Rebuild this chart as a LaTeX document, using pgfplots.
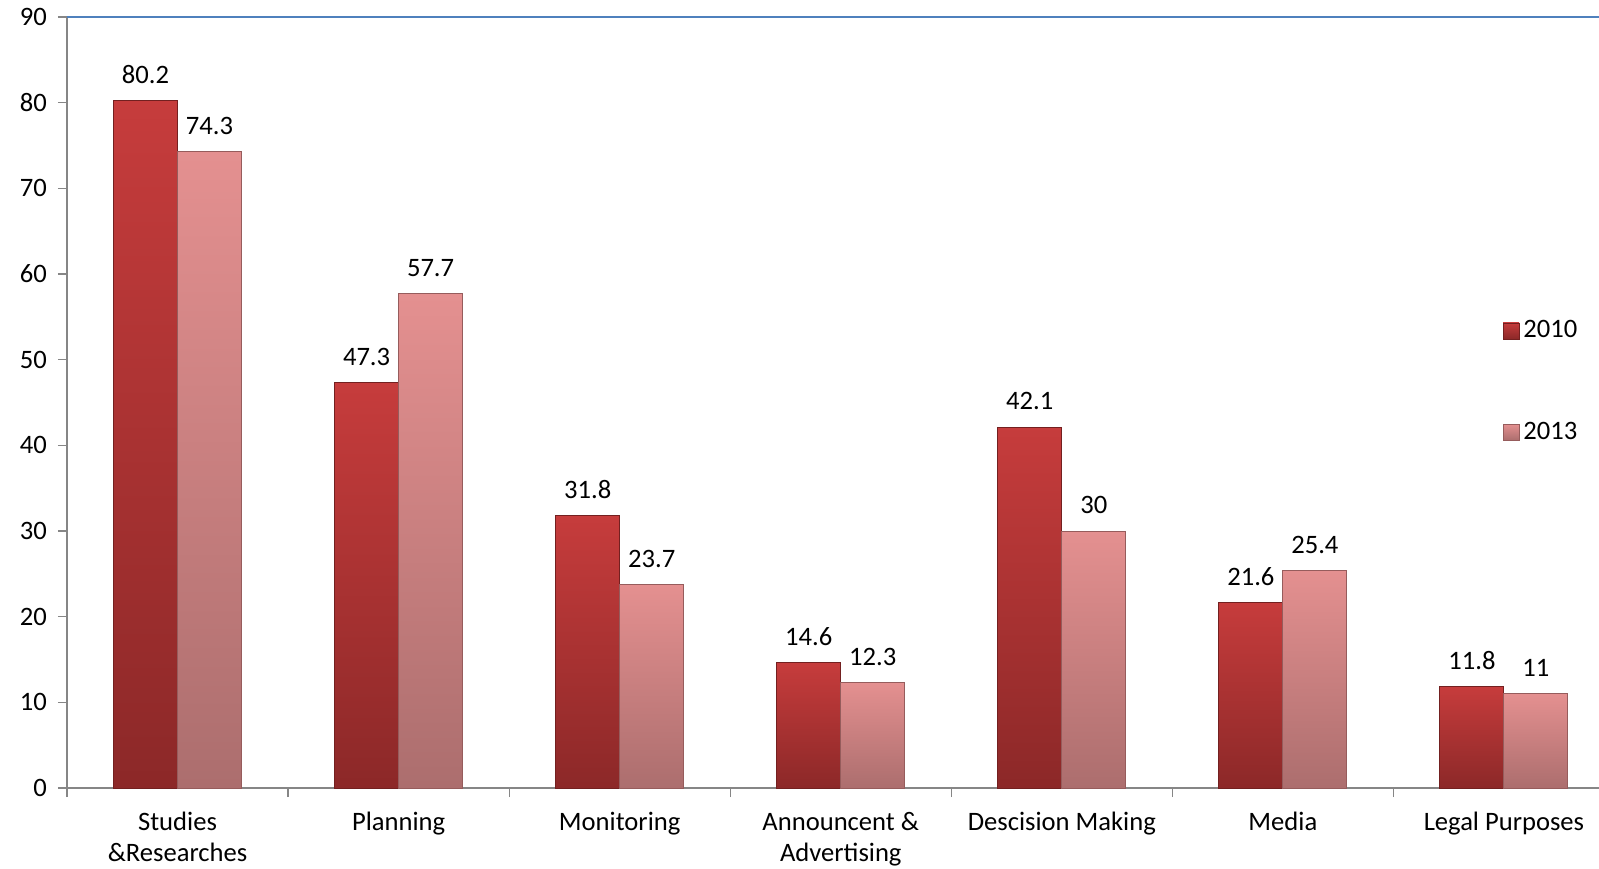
\documentclass[border=0pt]{standalone}
\usepackage{fontspec}
\setmainfont{Carlito}
\usepackage{pgfplots}
\pgfplotsset{compat=1.18}

\definecolor{rTop}{RGB}{198,60,60}
\definecolor{rBot}{RGB}{140,40,40}
\definecolor{rLine}{RGB}{115,32,32}
\definecolor{pTop}{RGB}{228,144,144}
\definecolor{pBot}{RGB}{172,110,110}
\definecolor{pLine}{RGB}{150,92,92}
\definecolor{axgray}{RGB}{134,134,134}
\definecolor{topblue}{RGB}{79,129,189}

\pgfplotsset{
    bar10/.style={draw=rLine, line width=0.5pt, top color=rTop, bottom color=rBot, bar shift=-16pt},
    bar13/.style={draw=pLine, line width=0.5pt, top color=pTop, bottom color=pBot, bar shift=16pt},
}

\begin{document}
\begin{tikzpicture}
\useasboundingbox (-33.5pt,-40pt) rectangle (766pt,394pt);
\begin{axis}[
    scale only axis,
    width=766pt, height=385.5pt,
    ybar, bar width=32pt,
    xmin=-0.5, xmax=6.43,
    ymin=0, ymax=90,
    ytick={0,10,...,90},
    xtick={-0.5,0.5,...,5.5},
    xticklabels={},
    extra x ticks={0,1,2,3,4,5,6},
    extra x tick labels={{Studies\\\&Researches},Planning,Monitoring,{Announcent \&\\Advertising},Descision Making,Media,Legal Purposes},
    extra x tick style={major tick length=0pt},
    axis lines*=left,
    axis line style={-, draw=axgray, line width=0.75pt},
    tick align=outside,
    major tick length=4.5pt,
    tick style={axgray, line width=0.6pt},
    /pgf/number format/assume math mode=true,
    every tick label/.append style={font=\fontsize{13.3}{15.5}\selectfont, black},
    yticklabel style={xshift=-2pt},
    xticklabel style={align=center, yshift=-8.5pt},
    nodes near coords,
    every node near coord/.append style={font=\fontsize{13.3}{15.5}\selectfont, black, yshift=5pt},
    legend style={draw=none, fill=none, font=\fontsize{13.3}{15.5}\selectfont,
        at={(rel axis cs:0.933,0.617)}, anchor=north west,
        row sep=36.5pt, cells={anchor=west}},
    legend image code/.code={\draw[#1, line width=0.3pt] (0pt,-4pt) rectangle (8pt,4pt);},
    clip=false,
]
% 2010
\addplot[bar10] coordinates {(0,80.2)};
\addplot[bar10, forget plot] coordinates {(1,47.3)};
\addplot[bar10, forget plot] coordinates {(2,31.8)};
\addplot[bar10, forget plot] coordinates {(3,14.6)};
\addplot[bar10, forget plot] coordinates {(4,42.1)};
\addplot[bar10, forget plot] coordinates {(5,21.6)};
\addplot[bar10, forget plot] coordinates {(6,11.8)};
% 2013
\addplot[bar13] coordinates {(0,74.3)};
\addplot[bar13, forget plot] coordinates {(1,57.7)};
\addplot[bar13, forget plot] coordinates {(2,23.7)};
\addplot[bar13, forget plot] coordinates {(3,12.3)};
\addplot[bar13, forget plot] coordinates {(4,30)};
\addplot[bar13, forget plot] coordinates {(5,25.4)};
\addplot[bar13, forget plot] coordinates {(6,11)};
\legend{2010,2013}
\draw[topblue, line width=1pt] (rel axis cs:0,1) -- (rel axis cs:1,1);
\end{axis}
\end{tikzpicture}
\end{document}
